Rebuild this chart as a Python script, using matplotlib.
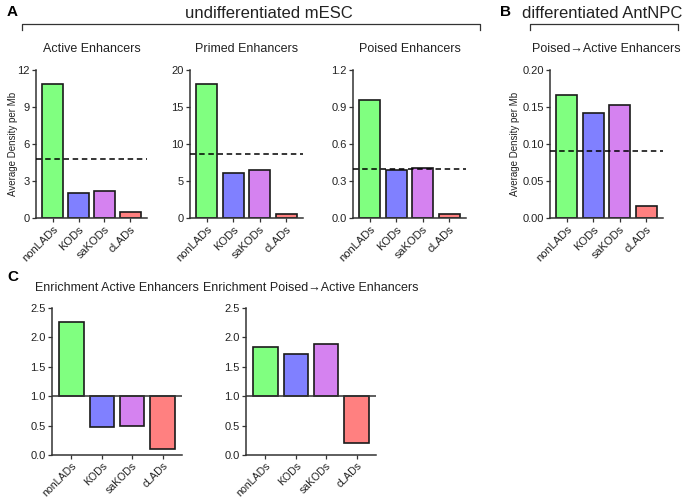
import matplotlib
matplotlib.use('Agg')
import matplotlib.pyplot as plt
from matplotlib.lines import Line2D

plt.rcParams['font.family'] = ['Liberation Sans', 'DejaVu Sans']

categories = ['nonLADs', 'KODs', 'saKODs', 'cLADs']
colors = ['#80ff80', '#8080ff', '#d582f0', '#ff8080']

# densities (average per Mb) and genome-wide mean (dashed line)
active = [10.9, 2.0, 2.15, 0.48]
active_mean = 4.78
primed = [18.15, 6.05, 6.45, 0.5]
primed_mean = 8.65
poised = [0.955, 0.39, 0.405, 0.035]
poised_mean = 0.395
poised_active = [0.166, 0.142, 0.153, 0.0165]
poised_active_mean = 0.09

# enrichment relative to 1.0
enr_active = [2.27, 0.47, 0.50, 0.10]
enr_poised_active = [1.84, 1.72, 1.88, 0.21]

W, H = 685, 499
fig = plt.figure(figsize=(W / 100, H / 100), dpi=100)
fig.patch.set_facecolor('white')

EDGE = '#1a1a1a'
SPINE = '#333333'
TXT = '#222222'


def px_axes(left, right, top, bottom):
    return fig.add_axes([left / W, 1 - bottom / H, (right - left) / W, (bottom - top) / H])


def style(ax, ylim, yticks, fmt, xsize=8):
    ax.set_ylim(*ylim)
    ax.set_xlim(-0.64, 3.64)
    ax.set_yticks(yticks)
    ax.set_yticklabels([fmt.format(t) for t in yticks], fontsize=8, color=TXT)
    ax.set_xticks(range(len(categories)))
    ax.set_xticklabels(categories, rotation=45, ha='right', rotation_mode='anchor',
                       fontsize=xsize, color=TXT)
    for s in ['top', 'right']:
        ax.spines[s].set_visible(False)
    for s in ['left', 'bottom']:
        ax.spines[s].set_linewidth(1.1)
        ax.spines[s].set_color(SPINE)
    ax.tick_params(axis='both', length=3, width=0.9, color=SPINE, pad=1.5)


def density_panel(box, values, mean, ylim, yticks, fmt, title, ylabel_x=None):
    ax = px_axes(*box)
    ax.bar(range(len(values)), values, width=0.8, color=colors, edgecolor=EDGE,
           linewidth=1.2, zorder=2)
    ax.axhline(mean, color='black', lw=1.1, dashes=(3.6, 2.4), zorder=3)
    style(ax, ylim, yticks, fmt)
    ax.set_title(title, fontsize=9, pad=13, color=TXT)
    if ylabel_x is not None:
        ax.set_ylabel('Average Density per Mb', fontsize=7, color=TXT)
        # place label centre at a given pixel x
        ax.yaxis.set_label_coords((ylabel_x - box[0]) / (box[1] - box[0]), 0.5)
    return ax


def enrichment_panel(box, values, title):
    ax = px_axes(*box)
    ax.bar(range(len(values)), [v - 1 for v in values], bottom=1, width=0.8,
           color=colors, edgecolor=EDGE, linewidth=1.2, zorder=2)
    ax.axhline(1.0, color=SPINE, lw=1.1, zorder=3)
    style(ax, (0, 2.5), [0, 0.5, 1.0, 1.5, 2.0, 2.5], '{:.1f}', xsize=7.6)
    ax.tick_params(axis='x', pad=1)
    ax.set_title(title, fontsize=9, pad=12, color=TXT)
    return ax


density_panel((36, 147, 70, 218), active, active_mean, (0, 12), [0, 3, 6, 9, 12], '{:d}',
              'Active Enhancers', ylabel_x=18)
density_panel((190, 303, 70, 218), primed, primed_mean, (0, 20), [0, 5, 10, 15, 20], '{:d}',
              'Primed Enhancers')
density_panel((353, 466, 70, 218), poised, poised_mean, (0, 1.2), [0, 0.3, 0.6, 0.9, 1.2], '{:.1f}',
              'Poised Enhancers')
density_panel((550, 663, 70, 218), poised_active, poised_active_mean, (0, 0.2),
              [0, 0.05, 0.10, 0.15, 0.20], '{:.2f}', 'Poised\u2192Active Enhancers', ylabel_x=520)

enrichment_panel((52, 182, 308, 455), enr_active, 'Enrichment Active Enhancers')
enrichment_panel((246, 376, 308, 455), enr_poised_active, 'Enrichment Poised\u2192Active Enhancers')


# group brackets and panel letters
def bracket(x0, x1, y, drop=6):
    xs = [x0 / W, x0 / W, x1 / W, x1 / W]
    ys = [1 - (y + drop) / H, 1 - y / H, 1 - y / H, 1 - (y + drop) / H]
    fig.add_artist(Line2D(xs, ys, color='#333333', lw=0.9, transform=fig.transFigure))


bracket(22, 480, 24)
bracket(530, 678, 24)

fig.text(269 / W, 1 - 14 / H, 'undifferentiated mESC', fontsize=12, ha='center', va='center',
         color=TXT)
fig.text(602 / W, 1 - 14 / H, 'differentiated AntNPC', fontsize=12, ha='center', va='center',
         color=TXT)
fig.text(7 / W, 1 - 12 / H, 'A', fontsize=11, fontweight='bold', ha='left', va='center')
fig.text(500 / W, 1 - 12 / H, 'B', fontsize=11, fontweight='bold', ha='left', va='center')
fig.text(7 / W, 1 - 277 / H, 'C', fontsize=11, fontweight='bold', ha='left', va='center')

fig.savefig('out.png', dpi=100, facecolor='white')
